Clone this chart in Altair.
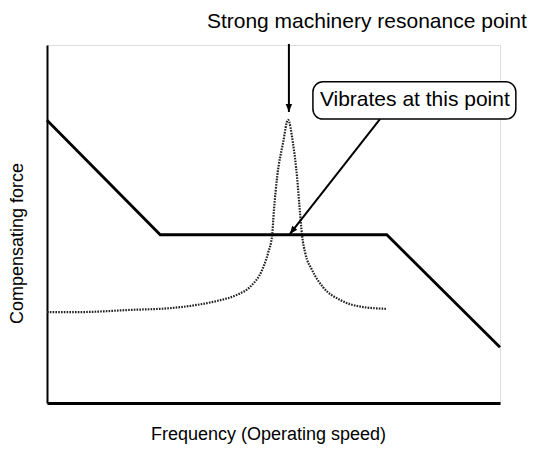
import altair as alt
import pandas as pd

# Solid compensating-force curve (frequency 0-100, force 0-100)
force_x = [0, 25, 75, 100]
force_y = [79, 47, 47, 15.6]

# Dotted machinery resonance curve
res_x = [0, 7.3, 18.3, 27.2, 33.1, 37.5, 41.9, 44.8, 47.5, 48.8, 49.7, 50.1, 50.8,
         52.1, 53.2, 54.3, 55.2, 55.8, 56.3, 57.0, 58.5, 60.9, 64.7, 69.8, 75.1]
res_y = [25.4, 25.4, 26.0, 26.5, 27.4, 28.5, 30.2, 32.4, 37.2, 41.9, 46.9, 53.9, 63.1,
         72.6, 79.1, 72.6, 63.1, 53.9, 46.9, 41.9, 37.2, 32.4, 28.8, 26.8, 26.3]

# Annotations
top_label = ["Strong machinery resonance point"]
top_label_x = [70.6]
top_label_y = [106.4]

box_label = ["Vibrates at this point"]
box_x = [58.7]
box_x2 = [103.5]
box_y = [79.3]
box_y2 = [89.7]
box_label_x = [81.2]
box_label_y = [84.5]

# arrows: start -> tip
arrow_x = [53.4, 73.5]
arrow_y = [100.3, 79.3]
arrow_x2 = [53.4, 53.6]
arrow_y2 = [81.3, 47.2]
arrow_angle = [180, 218]

FONT = "Liberation Sans"
xs = alt.Scale(domain=[0, 100], nice=False, zero=False)
ys = alt.Scale(domain=[0, 100], nice=False, zero=False)

x_axis = alt.Axis(title="Frequency (Operating speed)", labels=False, ticks=False, grid=False,
                  domain=True, domainColor="black", domainWidth=3,
                  titleFont=FONT, titleFontSize=18, titleFontWeight="normal", titleColor="black",
                  titleX=221, titleY=36, titleAlign="center", titleBaseline="alphabetic")
y_axis = alt.Axis(title="Compensating force", labels=False, ticks=False, grid=False,
                  domain=True, domainColor="black", domainWidth=2,
                  titleFont=FONT, titleFontSize=18, titleFontWeight="normal", titleColor="black",
                  titleX=-30, titleY=198, titleAlign="center", titleBaseline="middle", titleAngle=270)

force_df = pd.DataFrame({"freq": force_x, "force": force_y})
res_df = pd.DataFrame({"freq": res_x, "force": res_y})
top_df = pd.DataFrame({"freq": top_label_x, "force": top_label_y, "label": top_label})
box_df = pd.DataFrame({"freq": box_x, "freq2": box_x2, "force": box_y, "force2": box_y2})
boxlab_df = pd.DataFrame({"freq": box_label_x, "force": box_label_y, "label": box_label})
arrow_df = pd.DataFrame({"freq": arrow_x, "force": arrow_y, "freq2": arrow_x2,
                         "force2": arrow_y2, "angle": arrow_angle})

def X(field="freq:Q"):
    return alt.X(field, scale=xs, axis=x_axis)

def Y(field="force:Q"):
    return alt.Y(field, scale=ys, axis=y_axis)

resonance = alt.Chart(res_df).mark_line(
    color="#222222", strokeWidth=2.2, strokeDash=[1.6, 1.2], interpolate="monotone"
).encode(x=X(), y=Y())

force = alt.Chart(force_df).mark_line(color="black", strokeWidth=2.8).encode(x=X(), y=Y())

shafts = alt.Chart(arrow_df).mark_rule(color="black", strokeWidth=2).encode(
    x=X(), y=Y(), x2="freq2:Q", y2="force2:Q")

heads = alt.Chart(arrow_df).mark_point(
    shape="M0,0 L-0.4,1 L0.4,1 Z", filled=True, color="black", size=256, opacity=1
).encode(x=X("freq2:Q"), y=Y("force2:Q"),
         angle=alt.Angle("angle:Q", scale=None))

box = alt.Chart(box_df).mark_rect(
    fill="white", stroke="black", strokeWidth=1.5, cornerRadius=10
).encode(x=X(), x2="freq2:Q", y=Y(), y2="force2:Q")

box_text = alt.Chart(boxlab_df).mark_text(
    font=FONT, fontSize=21, color="black", align="center", baseline="middle"
).encode(x=X(), y=Y(), text="label:N")

top_text = alt.Chart(top_df).mark_text(
    font=FONT, fontSize=21, color="black", align="center", baseline="middle"
).encode(x=X(), y=Y(), text="label:N")

chart = alt.layer(resonance, force, shafts, heads, box, box_text, top_text).properties(
    width=453, height=358,
    autosize=alt.AutoSizeParams(type="none"),
    padding={"left": 39, "top": 37, "right": 29, "bottom": 41},
).configure_view(strokeWidth=0).configure(background="white")

chart.save("out.html", embed_options={"renderer": "svg", "actions": False})
